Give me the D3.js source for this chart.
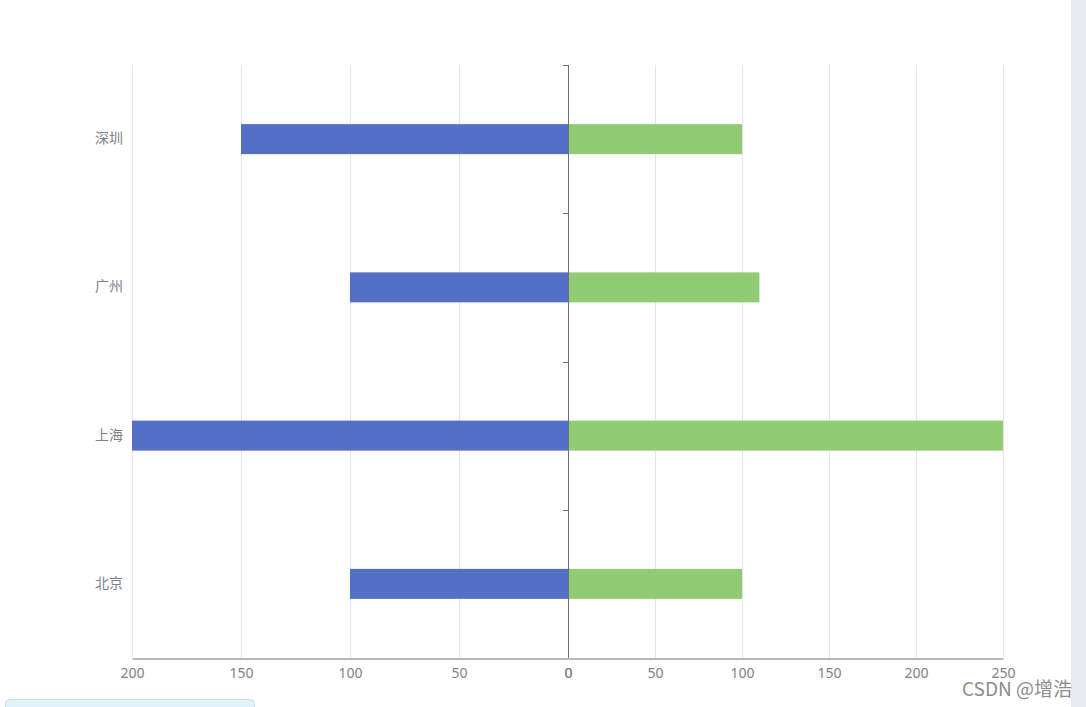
<!DOCTYPE html>
<html><head><meta charset="utf-8">
<script src="https://cdn.jsdelivr.net/npm/d3@7/dist/d3.min.js"></script>
<style>
html,body{margin:0;padding:0;background:#fff;}
svg{display:block;font-family:"Microsoft YaHei","Noto Sans CJK SC","Noto Sans",sans-serif;}
</style></head>
<body>
<svg id="chart" width="1086" height="707"></svg>
<script>
const categories = ["北京", "上海", "广州", "深圳"];
const leftValues = [100, 200, 100, 150];
const rightValues = [100, 250, 110, 100];
const leftTicks = [200, 150, 100, 50, 0];
const rightTicks = [0, 50, 100, 150, 200, 250];

(function () {
const svg = d3.select("#chart");
const W = 1086, H = 707;
const pLeft = 132, zero = 568, pRight = 1003, pTop = 65, pBottom = 658;
const axisColor = "#6e7079", gridColor = "#e0e6f1", labelColor = "#7f818a";

// side strip
svg.append("rect").attr("x", 1071).attr("y", 0).attr("width", 15).attr("height", H).attr("fill", "#e9eaf1");
// bottom-left box
svg.append("rect").attr("x", 5.5).attr("y", 699.5).attr("width", 249).attr("height", 20).attr("rx", 4)
  .attr("fill", "#e0f1f7").attr("stroke", "#c4e3ee");

const xL = d3.scaleLinear().domain([0, 200]).range([zero, pLeft]);
const xR = d3.scaleLinear().domain([0, 250]).range([zero, pRight]);
const y = d3.scaleBand().domain(categories).range([pBottom, pTop]);

// grid
const g = svg.append("g");
leftTicks.filter(t => t !== 0).forEach(t => {
  g.append("line").attr("x1", Math.round(xL(t)) + 0.5).attr("x2", Math.round(xL(t)) + 0.5).attr("y1", pTop).attr("y2", pBottom).attr("stroke", gridColor);
});
rightTicks.filter(t => t !== 0).forEach(t => {
  g.append("line").attr("x1", Math.round(xR(t)) + 0.5).attr("x2", Math.round(xR(t)) + 0.5).attr("y1", pTop).attr("y2", pBottom).attr("stroke", gridColor);
});

const bh = 30;
// bars
svg.append("g").selectAll("rect").data(categories).join("rect")
  .attr("x", (d, i) => xL(leftValues[i])).attr("width", (d, i) => zero - xL(leftValues[i]))
  .attr("y", d => y(d) + y.bandwidth() / 2 - bh / 2).attr("height", bh).attr("fill", "#5470c6");
svg.append("g").selectAll("rect").data(categories).join("rect")
  .attr("x", zero).attr("width", (d, i) => xR(rightValues[i]) - zero)
  .attr("y", d => y(d) + y.bandwidth() / 2 - bh / 2).attr("height", bh).attr("fill", "#91cc75");

// bottom axes
const axL = d3.axisBottom(xL).tickValues(leftTicks).tickSize(0).tickPadding(10);
const axR = d3.axisBottom(xR).tickValues(rightTicks).tickSize(0).tickPadding(10);
[axL, axR].forEach(ax => {
  const a = svg.append("g").attr("transform", `translate(0,${pBottom + 0.5})`).call(ax);
  a.select(".domain").attr("stroke", axisColor);
  a.selectAll("text").attr("fill", labelColor).attr("font-size", 14)
    .style("font-family", "'Noto Sans','Open Sans',sans-serif");
});

// vertical category axis at zero
svg.append("line").attr("x1", zero + 0.5).attr("x2", zero + 0.5).attr("y1", pTop).attr("y2", pBottom).attr("stroke", axisColor);
const bounds = [pTop, ...categories.map(c => y(c))].sort((a, b) => a - b);
bounds.forEach(b => {
  svg.append("line").attr("x1", zero - 5).attr("x2", zero + 0.5).attr("y1", Math.round(b) + 0.5).attr("y2", Math.round(b) + 0.5).attr("stroke", axisColor);
});
// category labels
svg.append("g").selectAll("text").data(categories).join("text")
  .attr("x", 123).attr("y", d => y(d) + y.bandwidth() / 2 - 1).attr("dy", "0.35em")
  .attr("text-anchor", "end").attr("font-size", 14).attr("fill", labelColor).text(d => d);

// watermark
svg.append("text").attr("x", 1072).attr("y", 696).attr("text-anchor", "end")
  .attr("font-size", 19).attr("fill", "#8c8c8c").text("CSDN @增浩");
})();
</script>
</body></html>
